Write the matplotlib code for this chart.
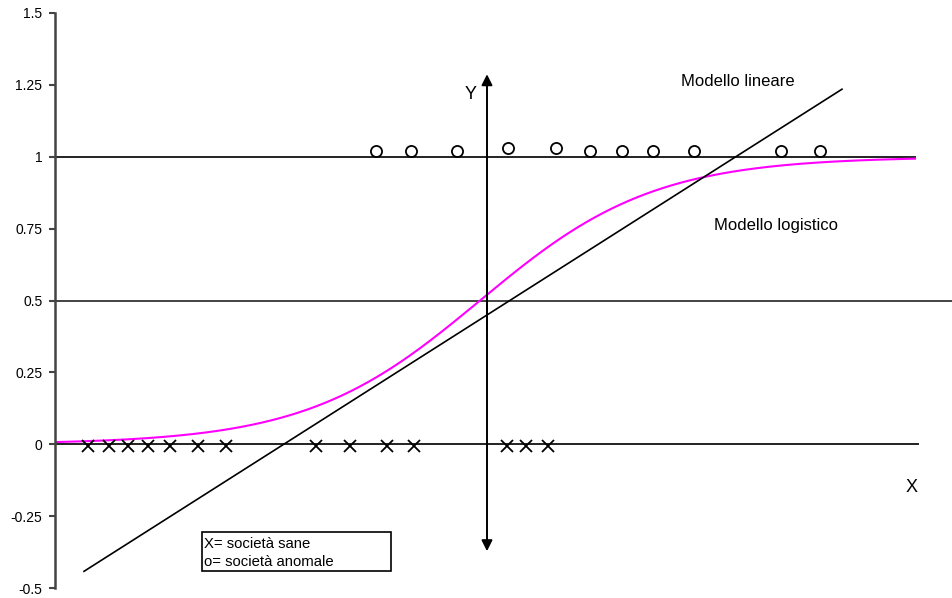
import numpy as np
import matplotlib.pyplot as plt
from matplotlib.patches import Rectangle

plt.rcParams['font.family'] = ['Liberation Sans', 'DejaVu Sans']

# societa' anomale (o) e sane (X)
anom_x = [-1.11, -0.76, -0.30, 0.21, 0.69, 1.03, 1.35, 1.66, 2.07, 2.94, 3.33]
anom_y = [1.02, 1.02, 1.02, 1.03, 1.03, 1.02, 1.02, 1.02, 1.02, 1.02, 1.02]
sane_x = [-3.99, -3.78, -3.59, -3.39, -3.17, -2.89, -2.61,
          -1.71, -1.37, -1.00, -0.73, 0.20, 0.39, 0.61]
sane_y = [-0.005] * len(sane_x)

# modello lineare: estremi del segmento
lin_x = [-4.03, 3.55]
lin_y = [-0.442, 1.235]

# modello logistico: pendenza e centro
log_k = 1.15
log_x0 = -0.07
log_range = (-4.32, 4.28)

y_ticks = [-0.5, -0.25, 0, 0.25, 0.5, 0.75, 1, 1.25, 1.5]
y_labels = ['-0.5', '-0.25', '0', '0.25', '0.5', '0.75', '1', '1.25', '1.5']

W, H = 952, 598
fig = plt.figure(figsize=(W / 100, H / 100), dpi=100)
ax = fig.add_axes([55 / W, 10 / H, (W - 55) / W, 575 / H])
ax.set_xlim(-4.32, 4.65)
ax.set_ylim(-0.5, 1.5)

for s in ['top', 'right', 'bottom']:
    ax.spines[s].set_visible(False)
ax.spines['left'].set_color('#444444')
ax.spines['left'].set_linewidth(1.8)
ax.set_xticks([])
ax.set_yticks(y_ticks)
ax.set_yticklabels(y_labels)
ax.tick_params(axis='y', length=4, width=1.5, color='#444444', labelsize=10, pad=5)

# linee di riferimento
ax.plot([-4.32, 4.28], [1, 1], color='#222222', lw=1.4)
ax.plot([-4.32, 4.65], [0.5, 0.5], color='#222222', lw=1.2)
ax.plot([-4.32, 4.31], [0, 0], color='#222222', lw=1.4)

# asse Y con frecce
ax.annotate('', xy=(0, 1.287), xytext=(0, 0.4),
            arrowprops=dict(arrowstyle='-|>', color='black', lw=1.4,
                            mutation_scale=16, shrinkA=0, shrinkB=0))
ax.annotate('', xy=(0, -0.372), xytext=(0, 0.6),
            arrowprops=dict(arrowstyle='-|>', color='black', lw=1.4,
                            mutation_scale=16, shrinkA=0, shrinkB=0))

# curve
xs = np.linspace(log_range[0], log_range[1], 400)
ax.plot(xs, 1 / (1 + np.exp(-log_k * (xs - log_x0))), color='#ff00ff', lw=1.5)
ax.plot(lin_x, lin_y, color='black', lw=1.2)

ax.plot(anom_x, anom_y, 'o', mfc='none', mec='black', mew=1.3, ms=8)
ax.plot(sane_x, sane_y, 'x', color='black', mew=1.3, ms=9)

ax.text(-0.16, 1.217, 'Y', fontsize=13, ha='center', va='center')
ax.text(4.25, -0.15, 'X', fontsize=13, ha='center', va='center')
ax.text(2.51, 1.263, 'Modello lineare', fontsize=12, ha='center', va='center')
ax.text(2.89, 0.762, 'Modello logistico', fontsize=12, ha='center', va='center')

ax.add_patch(Rectangle((-2.85, -0.442), 1.89, 0.136, fill=False,
                       edgecolor='black', lw=1.2))
ax.text(-2.83, -0.348, 'X= società sane', fontsize=10.7, va='center')
ax.text(-2.83, -0.410, 'o= società anomale', fontsize=10.7, va='center')

fig.savefig('out.png', dpi=100)
